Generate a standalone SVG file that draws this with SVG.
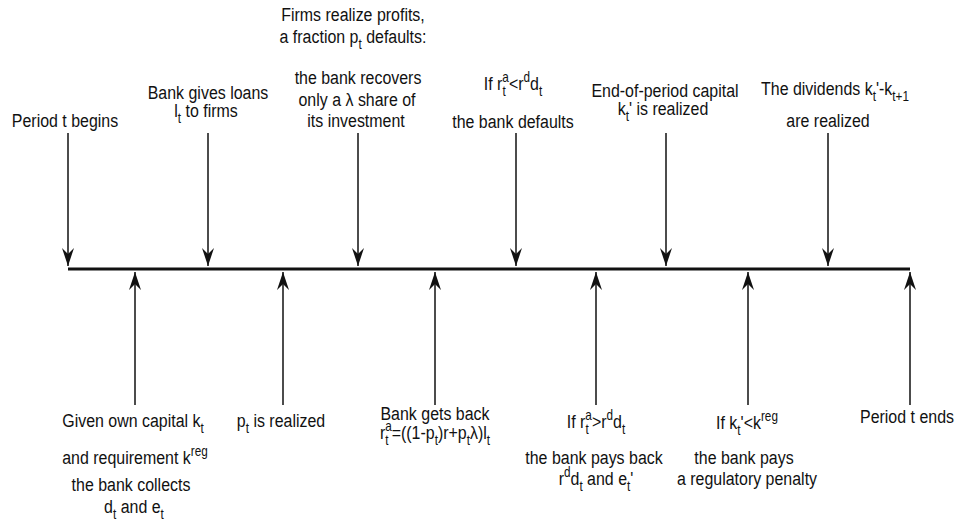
<svg xmlns="http://www.w3.org/2000/svg" width="959" height="527" viewBox="0 0 959 527">
<style>
.t{font-family:"Liberation Sans",Arial,sans-serif;font-size:19px;fill:#111;text-anchor:middle}
.s{font-size:14px}
.ln{stroke:#111;stroke-width:1.5;fill:none}
</style>
<defs>
<marker id="ah" markerUnits="userSpaceOnUse" markerWidth="18" markerHeight="12" refX="18" refY="6" orient="auto">
<path d="M18,6 L0,0 L6,6 L0,12 Z" fill="#111"/>
</marker>
</defs>
<rect width="959" height="527" fill="#fff"/>
<g id="connectors">
<line x1="68" y1="269" x2="910" y2="269" stroke="#111" stroke-width="3"/>
<line class="ln" x1="68" y1="133" x2="68" y2="266" marker-end="url(#ah)"/>
<line class="ln" x1="208" y1="133" x2="208" y2="266" marker-end="url(#ah)"/>
<line class="ln" x1="358" y1="133" x2="358" y2="266" marker-end="url(#ah)"/>
<line class="ln" x1="516" y1="133" x2="516" y2="266" marker-end="url(#ah)"/>
<line class="ln" x1="666" y1="133" x2="666" y2="266" marker-end="url(#ah)"/>
<line class="ln" x1="828" y1="133" x2="828" y2="266" marker-end="url(#ah)"/>
<line class="ln" x1="135" y1="405" x2="135" y2="272" marker-end="url(#ah)"/>
<line class="ln" x1="283" y1="405" x2="283" y2="272" marker-end="url(#ah)"/>
<line class="ln" x1="435" y1="405" x2="435" y2="272" marker-end="url(#ah)"/>
<line class="ln" x1="596" y1="405" x2="596" y2="272" marker-end="url(#ah)"/>
<line class="ln" x1="748" y1="405" x2="748" y2="272" marker-end="url(#ah)"/>
<line class="ln" x1="910" y1="405" x2="910" y2="272" marker-end="url(#ah)"/>
</g>
<g id="n-begin">
<text class="t" transform="translate(65,127) scale(0.84,1)">Period t begins</text>
</g>
<g id="n-loans">
<text class="t" transform="translate(208,99) scale(0.84,1)">Bank gives loans</text>
<text class="t" transform="translate(206,117) scale(0.84,1)">l<tspan class="s" dy="6">t</tspan><tspan dy="-6"> to firms</tspan></text>
</g>
<g id="n-profits">
<text class="t" transform="translate(353,21) scale(0.84,1)">Firms realize profits,</text>
<text class="t" transform="translate(353,43) scale(0.84,1)">a fraction p<tspan class="s" dy="6">t</tspan><tspan dy="-6"> defaults:</tspan></text>
<text class="t" transform="translate(358,84) scale(0.84,1)">the bank recovers</text>
<text class="t" transform="translate(357,106) scale(0.84,1)">only a λ share of</text>
<text class="t" transform="translate(356,127) scale(0.84,1)">its investment</text>
</g>
<g id="n-defaults">
<text class="t" transform="translate(513,90) scale(0.84,1)">If r<tspan class="s" dy="6">t</tspan><tspan class="s" dx="-4" dy="-14">a</tspan><tspan dy="8">&lt;r</tspan><tspan class="s" dy="-8">d</tspan><tspan dy="8">d</tspan><tspan class="s" dy="6">t</tspan></text>
<text class="t" transform="translate(513,128) scale(0.84,1)">the bank defaults</text>
</g>
<g id="n-endcap">
<text class="t" transform="translate(665,97) scale(0.84,1)">End-of-period capital</text>
<text class="t" transform="translate(663,115) scale(0.84,1)">k<tspan class="s" dy="6">t</tspan><tspan dy="-6">' is realized</tspan></text>
</g>
<g id="n-dividends">
<text class="t" transform="translate(835,95) scale(0.84,1)">The dividends k<tspan class="s" dy="6">t</tspan><tspan dy="-6">'-k</tspan><tspan class="s" dy="6">t+1</tspan></text>
<text class="t" transform="translate(828,127) scale(0.84,1)">are realized</text>
</g>
<g id="n-capital">
<text class="t" transform="translate(133,427) scale(0.84,1)">Given own capital k<tspan class="s" dy="6">t</tspan></text>
<text class="t" transform="translate(135,464) scale(0.84,1)">and requirement k<tspan class="s" dy="-8">reg</tspan></text>
<text class="t" transform="translate(131,491) scale(0.84,1)">the bank collects</text>
<text class="t" transform="translate(134,513) scale(0.84,1)">d<tspan class="s" dy="6">t</tspan><tspan dy="-6"> and e</tspan><tspan class="s" dy="6">t</tspan></text>
</g>
<g id="n-pt">
<text class="t" transform="translate(281,427) scale(0.84,1)">p<tspan class="s" dy="6">t</tspan><tspan dy="-6"> is realized</tspan></text>
</g>
<g id="n-getsback">
<text class="t" transform="translate(435,420) scale(0.84,1)">Bank gets back</text>
<text class="t" transform="translate(435,439) scale(0.84,1)">r<tspan class="s" dy="6">t</tspan><tspan class="s" dx="-4" dy="-14">a</tspan><tspan dy="8">=((1-p</tspan><tspan class="s" dy="6">t</tspan><tspan dy="-6">)r+p</tspan><tspan class="s" dy="6">t</tspan><tspan dy="-6">λ)l</tspan><tspan class="s" dy="6">t</tspan></text>
</g>
<g id="n-paysback">
<text class="t" transform="translate(596,428) scale(0.84,1)">If r<tspan class="s" dy="6">t</tspan><tspan class="s" dx="-4" dy="-14">a</tspan><tspan dy="8">&gt;r</tspan><tspan class="s" dy="-8">d</tspan><tspan dy="8">d</tspan><tspan class="s" dy="6">t</tspan></text>
<text class="t" transform="translate(594,464) scale(0.84,1)">the bank pays back</text>
<text class="t" transform="translate(596,485) scale(0.84,1)">r<tspan class="s" dy="-8">d</tspan><tspan dy="8">d</tspan><tspan class="s" dy="6">t</tspan><tspan dy="-6"> and e</tspan><tspan class="s" dy="6">t</tspan><tspan dy="-6">'</tspan></text>
</g>
<g id="n-penalty">
<text class="t" transform="translate(747,429) scale(0.84,1)">If k<tspan class="s" dy="6">t</tspan><tspan dy="-6">'&lt;k</tspan><tspan class="s" dy="-8">reg</tspan></text>
<text class="t" transform="translate(744,464) scale(0.84,1)">the bank pays</text>
<text class="t" transform="translate(747,485) scale(0.84,1)">a regulatory penalty</text>
</g>
<g id="n-end">
<text class="t" transform="translate(907,423) scale(0.84,1)">Period t ends</text>
</g>
</svg>
